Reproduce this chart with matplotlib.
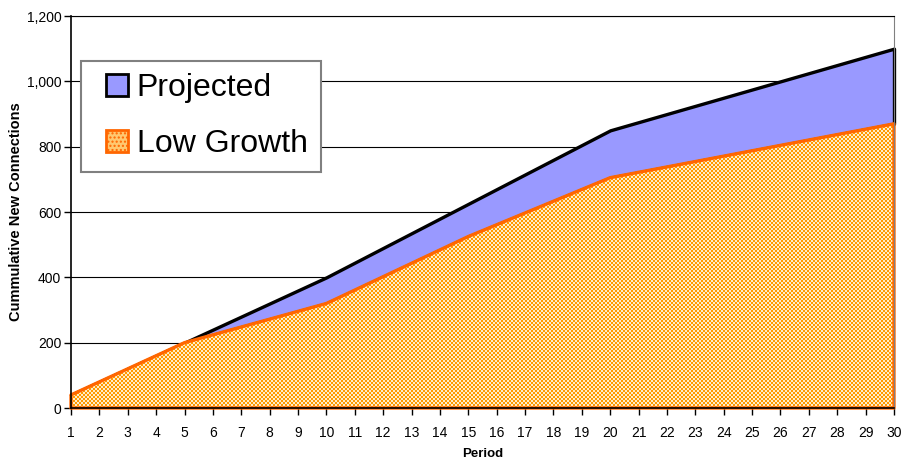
import numpy as np
import matplotlib
matplotlib.use('Agg')
import matplotlib.pyplot as plt
from matplotlib.patches import Patch, Rectangle
from matplotlib.legend_handler import HandlerPatch
from matplotlib.ticker import FuncFormatter

plt.rcParams['font.family'] = ['Liberation Sans', 'DejaVu Sans']

# data (break points of the series)
periods = [1, 5, 10, 15, 20, 30]
projected = [40, 200, 400, 625, 850, 1100]
low_growth = [40, 200, 320, 525, 705, 870]
period_ticks = list(range(1, 31))

fig = plt.figure(figsize=(9.04, 4.66), dpi=100)
ax = fig.add_axes([71 / 904, 1 - 408 / 466, 823 / 904, 392 / 466])

# gridlines behind the areas
for y in range(200, 1201, 200):
    ax.axhline(y, color='#000000', lw=0.8, zorder=0)

# projected area (between low growth and projected)
ax.fill_between(periods, low_growth, projected, facecolor='#9999FF',
                edgecolor='black', linewidth=2.4, zorder=2, clip_on=False)

# low growth area with a fine checker pattern
low_poly = ax.fill_between(periods, 0, low_growth, facecolor='none',
                           edgecolor='#FF6600', linewidth=2.4, zorder=4,
                           clip_on=False)
h, w = 392, 823
yy, xx = np.mgrid[0:h, 0:w]
check = ((yy // 2 + xx // 2) % 2).astype(bool)
img = np.zeros((h, w, 3))
img[check] = np.array([255, 153, 0]) / 255
img[~check] = np.array([255, 236, 200]) / 255
im = ax.imshow(img, extent=(1, 30, 0, 1200), aspect='auto',
               interpolation='nearest', zorder=3)
im.set_clip_path(low_poly.get_paths()[0], ax.transData)

ax.set_xlim(1, 30)
ax.set_ylim(0, 1200)
ax.set_xticks(period_ticks)
ax.set_yticks(range(0, 1201, 200))
ax.yaxis.set_major_formatter(FuncFormatter(lambda v, p: f'{int(v):,}'))
ax.tick_params(axis='both', labelsize=10, direction='out', length=5,
               width=1, color='black')
ax.tick_params(axis='x', pad=8)
ax.tick_params(axis='y', pad=2)

ax.spines['top'].set_color('black')
ax.spines['top'].set_linewidth(0.8)
ax.spines['right'].set_color('#808080')
ax.spines['left'].set_linewidth(1.2)
ax.spines['bottom'].set_linewidth(1.2)
for s in ax.spines.values():
    s.set_zorder(5)

ax.set_ylabel('Cummulative New Connections', fontsize=10.5, fontweight='bold')
ax.yaxis.set_label_coords(-48 / 823, 0.5)
ax.set_xlabel('Period', fontsize=9.5, fontweight='bold', labelpad=6)


# square legend keys sitting at the right end of the handle box
def square_key(legend, orig_handle, xdescent, ydescent, width, height, fontsize):
    sq = 16
    return Rectangle((-xdescent + width - sq, -ydescent + (height - sq) / 2), sq, sq)


handles = [Patch(facecolor='#9999FF', edgecolor='black', linewidth=2),
           Patch(facecolor='#FFC870', edgecolor='#FF6600', linewidth=2,
                 hatch='....')]
leg = ax.legend(handles, ['Projected', 'Low Growth'], loc='upper left',
                bbox_to_anchor=(0.012, 0.886), fontsize=23, fancybox=False,
                framealpha=1, edgecolor='#808080', handlelength=1.07,
                handleheight=0.7, handletextpad=0.28, borderpad=0.4,
                labelspacing=0.8, borderaxespad=0,
                handler_map={Patch: HandlerPatch(patch_func=square_key)})
leg.get_frame().set_linewidth(1.5)
leg.set_zorder(6)

fig.savefig('out.png', dpi=100)
